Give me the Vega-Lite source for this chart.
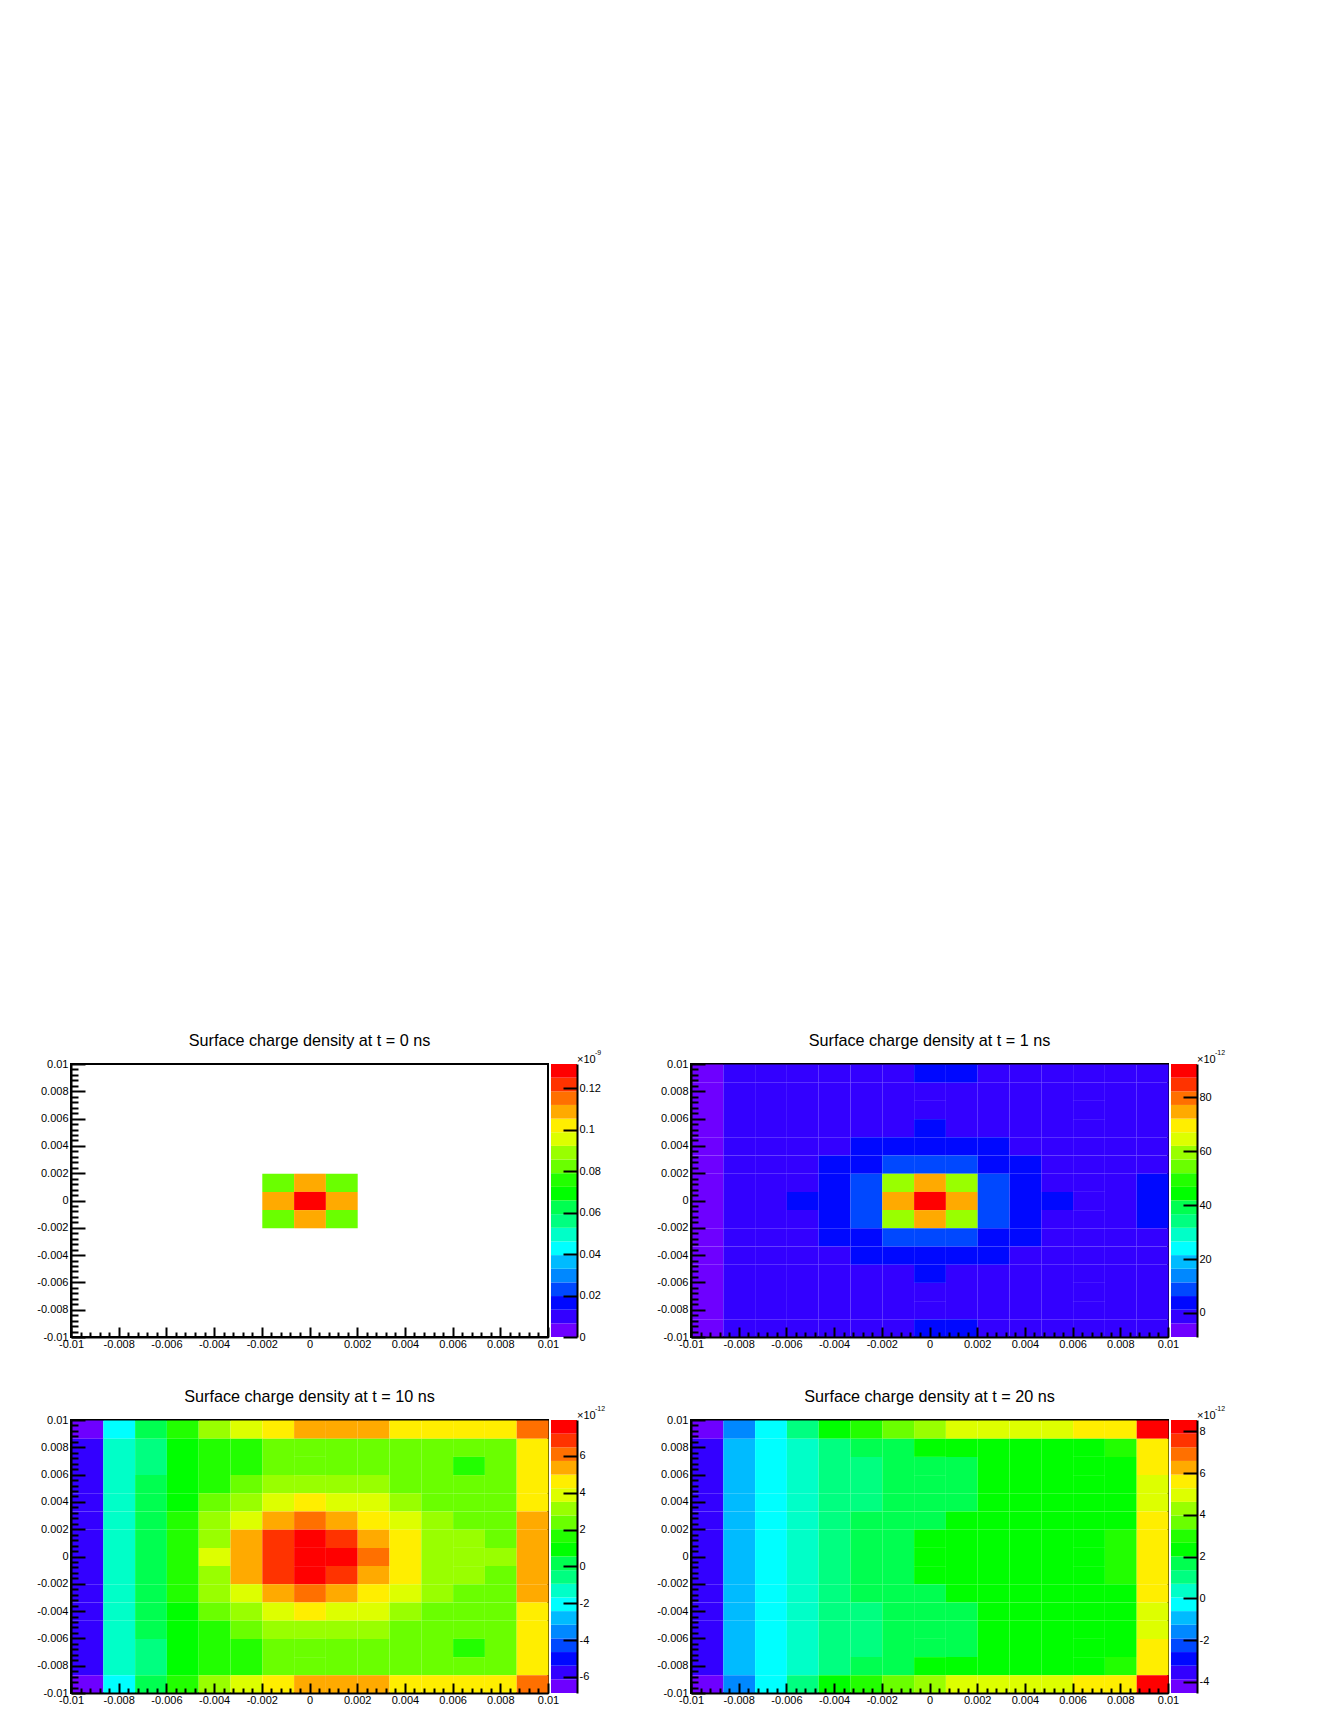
{"$schema":"https://vega.github.io/schema/vega-lite/v6.json","padding":{"left":35,"top":1031,"right":5,"bottom":5},"background":"white","bounds":"flush","spacing":{"row":83,"column":3},"columns":4,
"config":{"font":"Liberation Sans","axis":{"labelFont":"Liberation Sans","labelFontSize":11,"labelColor":"#000","tickColor":"#000","domainColor":"#000","domainWidth":2,"tickWidth":2,"grid":false,"title":null,"labelOverlap":false,"labelBound":false,"labelFlush":false},"title":{"font":"Liberation Sans","fontSize":16.2,"fontWeight":"normal","color":"#000","offset":9}},
"datasets":{
"t0":[{"x":-0.00133,"y":0.00133,"v":0.0823},{"x":0,"y":0.00133,"v":0.1087},{"x":0.00133,"y":0.00133,"v":0.0823},{"x":-0.00133,"y":0,"v":0.1087},{"x":0,"y":0,"v":0.1284},{"x":0.00133,"y":0,"v":0.1087},{"x":-0.00133,"y":-0.00133,"v":0.0823},{"x":0,"y":-0.00133,"v":0.1087},{"x":0.00133,"y":-0.00133,"v":0.0823}],
"t1":[
{"x":-0.00933,"y":0.00933,"v":-6.4},{"x":-0.008,"y":0.00933,"v":-1.3},{"x":-0.00667,"y":0.00933,"v":-1.3},{"x":-0.00533,"y":0.00933,"v":-1.3},{"x":-0.004,"y":0.00933,"v":-1.3},{"x":-0.00267,"y":0.00933,"v":-1.3},{"x":-0.00133,"y":0.00933,"v":-1.3},{"x":0,"y":0.00933,"v":3.8},{"x":0.00133,"y":0.00933,"v":3.8},{"x":0.00267,"y":0.00933,"v":-1.3},{"x":0.004,"y":0.00933,"v":-1.3},{"x":0.00533,"y":0.00933,"v":-1.3},{"x":0.00667,"y":0.00933,"v":-1.3},{"x":0.008,"y":0.00933,"v":-1.3},{"x":0.00933,"y":0.00933,"v":-1.3},
{"x":-0.00933,"y":0.008,"v":-6.4},{"x":-0.008,"y":0.008,"v":-1.3},{"x":-0.00667,"y":0.008,"v":-1.3},{"x":-0.00533,"y":0.008,"v":-1.3},{"x":-0.004,"y":0.008,"v":-1.3},{"x":-0.00267,"y":0.008,"v":-1.3},{"x":-0.00133,"y":0.008,"v":-1.3},{"x":0,"y":0.008,"v":-1.3},{"x":0.00133,"y":0.008,"v":-1.3},{"x":0.00267,"y":0.008,"v":-1.3},{"x":0.004,"y":0.008,"v":-1.3},{"x":0.00533,"y":0.008,"v":-1.3},{"x":0.00667,"y":0.008,"v":-1.3},{"x":0.008,"y":0.008,"v":-1.3},{"x":0.00933,"y":0.008,"v":-1.3},
{"x":-0.00933,"y":0.00667,"v":-6.4},{"x":-0.008,"y":0.00667,"v":-1.3},{"x":-0.00667,"y":0.00667,"v":-1.3},{"x":-0.00533,"y":0.00667,"v":-1.3},{"x":-0.004,"y":0.00667,"v":-1.3},{"x":-0.00267,"y":0.00667,"v":-1.3},{"x":-0.00133,"y":0.00667,"v":-1.3},{"x":0,"y":0.00667,"v":-1.3},{"x":0.00133,"y":0.00667,"v":-1.3},{"x":0.00267,"y":0.00667,"v":-1.3},{"x":0.004,"y":0.00667,"v":-1.3},{"x":0.00533,"y":0.00667,"v":-1.3},{"x":0.00667,"y":0.00667,"v":-1.3},{"x":0.008,"y":0.00667,"v":-1.3},{"x":0.00933,"y":0.00667,"v":-1.3},
{"x":-0.00933,"y":0.00533,"v":-6.4},{"x":-0.008,"y":0.00533,"v":-1.3},{"x":-0.00667,"y":0.00533,"v":-1.3},{"x":-0.00533,"y":0.00533,"v":-1.3},{"x":-0.004,"y":0.00533,"v":-1.3},{"x":-0.00267,"y":0.00533,"v":-1.3},{"x":-0.00133,"y":0.00533,"v":-1.3},{"x":0,"y":0.00533,"v":3.8},{"x":0.00133,"y":0.00533,"v":-1.3},{"x":0.00267,"y":0.00533,"v":-1.3},{"x":0.004,"y":0.00533,"v":-1.3},{"x":0.00533,"y":0.00533,"v":-1.3},{"x":0.00667,"y":0.00533,"v":-1.3},{"x":0.008,"y":0.00533,"v":-1.3},{"x":0.00933,"y":0.00533,"v":-1.3},
{"x":-0.00933,"y":0.004,"v":-6.4},{"x":-0.008,"y":0.004,"v":-1.3},{"x":-0.00667,"y":0.004,"v":-1.3},{"x":-0.00533,"y":0.004,"v":-1.3},{"x":-0.004,"y":0.004,"v":-1.3},{"x":-0.00267,"y":0.004,"v":3.8},{"x":-0.00133,"y":0.004,"v":3.8},{"x":0,"y":0.004,"v":3.8},{"x":0.00133,"y":0.004,"v":3.8},{"x":0.00267,"y":0.004,"v":3.8},{"x":0.004,"y":0.004,"v":-1.3},{"x":0.00533,"y":0.004,"v":-1.3},{"x":0.00667,"y":0.004,"v":-1.3},{"x":0.008,"y":0.004,"v":-1.3},{"x":0.00933,"y":0.004,"v":-1.3},
{"x":-0.00933,"y":0.00267,"v":-6.4},{"x":-0.008,"y":0.00267,"v":-1.3},{"x":-0.00667,"y":0.00267,"v":-1.3},{"x":-0.00533,"y":0.00267,"v":-1.3},{"x":-0.004,"y":0.00267,"v":3.8},{"x":-0.00267,"y":0.00267,"v":3.8},{"x":-0.00133,"y":0.00267,"v":8.8},{"x":0,"y":0.00267,"v":8.8},{"x":0.00133,"y":0.00267,"v":8.8},{"x":0.00267,"y":0.00267,"v":3.8},{"x":0.004,"y":0.00267,"v":3.8},{"x":0.00533,"y":0.00267,"v":-1.3},{"x":0.00667,"y":0.00267,"v":-1.3},{"x":0.008,"y":0.00267,"v":-1.3},{"x":0.00933,"y":0.00267,"v":-1.3},
{"x":-0.00933,"y":0.00133,"v":-6.4},{"x":-0.008,"y":0.00133,"v":-1.3},{"x":-0.00667,"y":0.00133,"v":-1.3},{"x":-0.00533,"y":0.00133,"v":-1.3},{"x":-0.004,"y":0.00133,"v":3.8},{"x":-0.00267,"y":0.00133,"v":8.8},{"x":-0.00133,"y":0.00133,"v":59.4},{"x":0,"y":0.00133,"v":74.6},{"x":0.00133,"y":0.00133,"v":59.4},{"x":0.00267,"y":0.00133,"v":8.8},{"x":0.004,"y":0.00133,"v":3.8},{"x":0.00533,"y":0.00133,"v":-1.3},{"x":0.00667,"y":0.00133,"v":-1.3},{"x":0.008,"y":0.00133,"v":-1.3},{"x":0.00933,"y":0.00133,"v":3.8},
{"x":-0.00933,"y":0,"v":-6.4},{"x":-0.008,"y":0,"v":-1.3},{"x":-0.00667,"y":0,"v":-1.3},{"x":-0.00533,"y":0,"v":3.8},{"x":-0.004,"y":0,"v":3.8},{"x":-0.00267,"y":0,"v":8.8},{"x":-0.00133,"y":0,"v":74.6},{"x":0,"y":0,"v":89.8},{"x":0.00133,"y":0,"v":74.6},{"x":0.00267,"y":0,"v":8.8},{"x":0.004,"y":0,"v":3.8},{"x":0.00533,"y":0,"v":3.8},{"x":0.00667,"y":0,"v":-1.3},{"x":0.008,"y":0,"v":-1.3},{"x":0.00933,"y":0,"v":3.8},
{"x":-0.00933,"y":-0.00133,"v":-6.4},{"x":-0.008,"y":-0.00133,"v":-1.3},{"x":-0.00667,"y":-0.00133,"v":-1.3},{"x":-0.00533,"y":-0.00133,"v":-1.3},{"x":-0.004,"y":-0.00133,"v":3.8},{"x":-0.00267,"y":-0.00133,"v":8.8},{"x":-0.00133,"y":-0.00133,"v":59.4},{"x":0,"y":-0.00133,"v":74.6},{"x":0.00133,"y":-0.00133,"v":59.4},{"x":0.00267,"y":-0.00133,"v":8.8},{"x":0.004,"y":-0.00133,"v":3.8},{"x":0.00533,"y":-0.00133,"v":-1.3},{"x":0.00667,"y":-0.00133,"v":-1.3},{"x":0.008,"y":-0.00133,"v":-1.3},{"x":0.00933,"y":-0.00133,"v":3.8},
{"x":-0.00933,"y":-0.00267,"v":-6.4},{"x":-0.008,"y":-0.00267,"v":-1.3},{"x":-0.00667,"y":-0.00267,"v":-1.3},{"x":-0.00533,"y":-0.00267,"v":-1.3},{"x":-0.004,"y":-0.00267,"v":3.8},{"x":-0.00267,"y":-0.00267,"v":3.8},{"x":-0.00133,"y":-0.00267,"v":8.8},{"x":0,"y":-0.00267,"v":8.8},{"x":0.00133,"y":-0.00267,"v":8.8},{"x":0.00267,"y":-0.00267,"v":3.8},{"x":0.004,"y":-0.00267,"v":3.8},{"x":0.00533,"y":-0.00267,"v":-1.3},{"x":0.00667,"y":-0.00267,"v":-1.3},{"x":0.008,"y":-0.00267,"v":-1.3},{"x":0.00933,"y":-0.00267,"v":-1.3},
{"x":-0.00933,"y":-0.004,"v":-6.4},{"x":-0.008,"y":-0.004,"v":-1.3},{"x":-0.00667,"y":-0.004,"v":-1.3},{"x":-0.00533,"y":-0.004,"v":-1.3},{"x":-0.004,"y":-0.004,"v":-1.3},{"x":-0.00267,"y":-0.004,"v":3.8},{"x":-0.00133,"y":-0.004,"v":3.8},{"x":0,"y":-0.004,"v":3.8},{"x":0.00133,"y":-0.004,"v":3.8},{"x":0.00267,"y":-0.004,"v":3.8},{"x":0.004,"y":-0.004,"v":-1.3},{"x":0.00533,"y":-0.004,"v":-1.3},{"x":0.00667,"y":-0.004,"v":-1.3},{"x":0.008,"y":-0.004,"v":-1.3},{"x":0.00933,"y":-0.004,"v":-1.3},
{"x":-0.00933,"y":-0.00533,"v":-6.4},{"x":-0.008,"y":-0.00533,"v":-1.3},{"x":-0.00667,"y":-0.00533,"v":-1.3},{"x":-0.00533,"y":-0.00533,"v":-1.3},{"x":-0.004,"y":-0.00533,"v":-1.3},{"x":-0.00267,"y":-0.00533,"v":-1.3},{"x":-0.00133,"y":-0.00533,"v":-1.3},{"x":0,"y":-0.00533,"v":3.8},{"x":0.00133,"y":-0.00533,"v":-1.3},{"x":0.00267,"y":-0.00533,"v":-1.3},{"x":0.004,"y":-0.00533,"v":-1.3},{"x":0.00533,"y":-0.00533,"v":-1.3},{"x":0.00667,"y":-0.00533,"v":-1.3},{"x":0.008,"y":-0.00533,"v":-1.3},{"x":0.00933,"y":-0.00533,"v":-1.3},
{"x":-0.00933,"y":-0.00667,"v":-6.4},{"x":-0.008,"y":-0.00667,"v":-1.3},{"x":-0.00667,"y":-0.00667,"v":-1.3},{"x":-0.00533,"y":-0.00667,"v":-1.3},{"x":-0.004,"y":-0.00667,"v":-1.3},{"x":-0.00267,"y":-0.00667,"v":-1.3},{"x":-0.00133,"y":-0.00667,"v":-1.3},{"x":0,"y":-0.00667,"v":-1.3},{"x":0.00133,"y":-0.00667,"v":-1.3},{"x":0.00267,"y":-0.00667,"v":-1.3},{"x":0.004,"y":-0.00667,"v":-1.3},{"x":0.00533,"y":-0.00667,"v":-1.3},{"x":0.00667,"y":-0.00667,"v":-1.3},{"x":0.008,"y":-0.00667,"v":-1.3},{"x":0.00933,"y":-0.00667,"v":-1.3},
{"x":-0.00933,"y":-0.008,"v":-6.4},{"x":-0.008,"y":-0.008,"v":-1.3},{"x":-0.00667,"y":-0.008,"v":-1.3},{"x":-0.00533,"y":-0.008,"v":-1.3},{"x":-0.004,"y":-0.008,"v":-1.3},{"x":-0.00267,"y":-0.008,"v":-1.3},{"x":-0.00133,"y":-0.008,"v":-1.3},{"x":0,"y":-0.008,"v":-1.3},{"x":0.00133,"y":-0.008,"v":-1.3},{"x":0.00267,"y":-0.008,"v":-1.3},{"x":0.004,"y":-0.008,"v":-1.3},{"x":0.00533,"y":-0.008,"v":-1.3},{"x":0.00667,"y":-0.008,"v":-1.3},{"x":0.008,"y":-0.008,"v":-1.3},{"x":0.00933,"y":-0.008,"v":-1.3},
{"x":-0.00933,"y":-0.00933,"v":-6.4},{"x":-0.008,"y":-0.00933,"v":-1.3},{"x":-0.00667,"y":-0.00933,"v":-1.3},{"x":-0.00533,"y":-0.00933,"v":-1.3},{"x":-0.004,"y":-0.00933,"v":-1.3},{"x":-0.00267,"y":-0.00933,"v":-1.3},{"x":-0.00133,"y":-0.00933,"v":-1.3},{"x":0,"y":-0.00933,"v":3.8},{"x":0.00133,"y":-0.00933,"v":3.8},{"x":0.00267,"y":-0.00933,"v":-1.3},{"x":0.004,"y":-0.00933,"v":-1.3},{"x":0.00533,"y":-0.00933,"v":-1.3},{"x":0.00667,"y":-0.00933,"v":-1.3},{"x":0.008,"y":-0.00933,"v":-1.3},{"x":0.00933,"y":-0.00933,"v":-1.3}
],
"t10":[
{"x":-0.00933,"y":0.00933,"v":-6.5},{"x":-0.008,"y":0.00933,"v":-2.05},{"x":-0.00667,"y":0.00933,"v":0.17},{"x":-0.00533,"y":0.00933,"v":1.65},{"x":-0.004,"y":0.00933,"v":3.13},{"x":-0.00267,"y":0.00933,"v":3.87},{"x":-0.00133,"y":0.00933,"v":4.61},{"x":0,"y":0.00933,"v":5.35},{"x":0.00133,"y":0.00933,"v":5.35},{"x":0.00267,"y":0.00933,"v":5.35},{"x":0.004,"y":0.00933,"v":4.61},{"x":0.00533,"y":0.00933,"v":4.61},{"x":0.00667,"y":0.00933,"v":4.61},{"x":0.008,"y":0.00933,"v":4.61},{"x":0.00933,"y":0.00933,"v":6.09},
{"x":-0.00933,"y":0.008,"v":-5.76},{"x":-0.008,"y":0.008,"v":-1.31},{"x":-0.00667,"y":0.008,"v":-0.57},{"x":-0.00533,"y":0.008,"v":0.91},{"x":-0.004,"y":0.008,"v":1.65},{"x":-0.00267,"y":0.008,"v":1.65},{"x":-0.00133,"y":0.008,"v":2.39},{"x":0,"y":0.008,"v":2.39},{"x":0.00133,"y":0.008,"v":2.39},{"x":0.00267,"y":0.008,"v":2.39},{"x":0.004,"y":0.008,"v":2.39},{"x":0.00533,"y":0.008,"v":2.39},{"x":0.00667,"y":0.008,"v":2.39},{"x":0.008,"y":0.008,"v":2.39},{"x":0.00933,"y":0.008,"v":4.61},
{"x":-0.00933,"y":0.00667,"v":-5.76},{"x":-0.008,"y":0.00667,"v":-1.31},{"x":-0.00667,"y":0.00667,"v":-0.57},{"x":-0.00533,"y":0.00667,"v":0.91},{"x":-0.004,"y":0.00667,"v":1.65},{"x":-0.00267,"y":0.00667,"v":1.65},{"x":-0.00133,"y":0.00667,"v":2.39},{"x":0,"y":0.00667,"v":2.39},{"x":0.00133,"y":0.00667,"v":2.39},{"x":0.00267,"y":0.00667,"v":2.39},{"x":0.004,"y":0.00667,"v":2.39},{"x":0.00533,"y":0.00667,"v":2.39},{"x":0.00667,"y":0.00667,"v":1.65},{"x":0.008,"y":0.00667,"v":2.39},{"x":0.00933,"y":0.00667,"v":4.61},
{"x":-0.00933,"y":0.00533,"v":-5.76},{"x":-0.008,"y":0.00533,"v":-1.31},{"x":-0.00667,"y":0.00533,"v":0.17},{"x":-0.00533,"y":0.00533,"v":0.91},{"x":-0.004,"y":0.00533,"v":1.65},{"x":-0.00267,"y":0.00533,"v":2.39},{"x":-0.00133,"y":0.00533,"v":3.13},{"x":0,"y":0.00533,"v":3.13},{"x":0.00133,"y":0.00533,"v":3.13},{"x":0.00267,"y":0.00533,"v":3.13},{"x":0.004,"y":0.00533,"v":2.39},{"x":0.00533,"y":0.00533,"v":2.39},{"x":0.00667,"y":0.00533,"v":2.39},{"x":0.008,"y":0.00533,"v":2.39},{"x":0.00933,"y":0.00533,"v":4.61},
{"x":-0.00933,"y":0.004,"v":-5.76},{"x":-0.008,"y":0.004,"v":-1.31},{"x":-0.00667,"y":0.004,"v":0.17},{"x":-0.00533,"y":0.004,"v":0.91},{"x":-0.004,"y":0.004,"v":2.39},{"x":-0.00267,"y":0.004,"v":3.13},{"x":-0.00133,"y":0.004,"v":3.87},{"x":0,"y":0.004,"v":4.61},{"x":0.00133,"y":0.004,"v":3.87},{"x":0.00267,"y":0.004,"v":3.87},{"x":0.004,"y":0.004,"v":3.13},{"x":0.00533,"y":0.004,"v":2.39},{"x":0.00667,"y":0.004,"v":2.39},{"x":0.008,"y":0.004,"v":2.39},{"x":0.00933,"y":0.004,"v":4.61},
{"x":-0.00933,"y":0.00267,"v":-5.76},{"x":-0.008,"y":0.00267,"v":-1.31},{"x":-0.00667,"y":0.00267,"v":0.17},{"x":-0.00533,"y":0.00267,"v":1.65},{"x":-0.004,"y":0.00267,"v":3.13},{"x":-0.00267,"y":0.00267,"v":3.87},{"x":-0.00133,"y":0.00267,"v":5.35},{"x":0,"y":0.00267,"v":6.09},{"x":0.00133,"y":0.00267,"v":5.35},{"x":0.00267,"y":0.00267,"v":4.61},{"x":0.004,"y":0.00267,"v":3.87},{"x":0.00533,"y":0.00267,"v":3.13},{"x":0.00667,"y":0.00267,"v":2.39},{"x":0.008,"y":0.00267,"v":2.39},{"x":0.00933,"y":0.00267,"v":5.35},
{"x":-0.00933,"y":0.00133,"v":-5.76},{"x":-0.008,"y":0.00133,"v":-1.31},{"x":-0.00667,"y":0.00133,"v":0.17},{"x":-0.00533,"y":0.00133,"v":1.65},{"x":-0.004,"y":0.00133,"v":3.13},{"x":-0.00267,"y":0.00133,"v":5.35},{"x":-0.00133,"y":0.00133,"v":6.84},{"x":0,"y":0.00133,"v":7.58},{"x":0.00133,"y":0.00133,"v":6.84},{"x":0.00267,"y":0.00133,"v":5.35},{"x":0.004,"y":0.00133,"v":4.61},{"x":0.00533,"y":0.00133,"v":3.13},{"x":0.00667,"y":0.00133,"v":3.13},{"x":0.008,"y":0.00133,"v":2.39},{"x":0.00933,"y":0.00133,"v":5.35},
{"x":-0.00933,"y":0,"v":-5.76},{"x":-0.008,"y":0,"v":-1.31},{"x":-0.00667,"y":0,"v":0.17},{"x":-0.00533,"y":0,"v":1.65},{"x":-0.004,"y":0,"v":3.87},{"x":-0.00267,"y":0,"v":5.35},{"x":-0.00133,"y":0,"v":6.84},{"x":0,"y":0,"v":7.58},{"x":0.00133,"y":0,"v":7.58},{"x":0.00267,"y":0,"v":6.09},{"x":0.004,"y":0,"v":4.61},{"x":0.00533,"y":0,"v":3.13},{"x":0.00667,"y":0,"v":3.13},{"x":0.008,"y":0,"v":3.13},{"x":0.00933,"y":0,"v":5.35},
{"x":-0.00933,"y":-0.00133,"v":-5.76},{"x":-0.008,"y":-0.00133,"v":-1.31},{"x":-0.00667,"y":-0.00133,"v":0.17},{"x":-0.00533,"y":-0.00133,"v":1.65},{"x":-0.004,"y":-0.00133,"v":3.13},{"x":-0.00267,"y":-0.00133,"v":5.35},{"x":-0.00133,"y":-0.00133,"v":6.84},{"x":0,"y":-0.00133,"v":7.58},{"x":0.00133,"y":-0.00133,"v":6.84},{"x":0.00267,"y":-0.00133,"v":5.35},{"x":0.004,"y":-0.00133,"v":4.61},{"x":0.00533,"y":-0.00133,"v":3.13},{"x":0.00667,"y":-0.00133,"v":3.13},{"x":0.008,"y":-0.00133,"v":2.39},{"x":0.00933,"y":-0.00133,"v":5.35},
{"x":-0.00933,"y":-0.00267,"v":-5.76},{"x":-0.008,"y":-0.00267,"v":-1.31},{"x":-0.00667,"y":-0.00267,"v":0.17},{"x":-0.00533,"y":-0.00267,"v":1.65},{"x":-0.004,"y":-0.00267,"v":3.13},{"x":-0.00267,"y":-0.00267,"v":3.87},{"x":-0.00133,"y":-0.00267,"v":5.35},{"x":0,"y":-0.00267,"v":6.09},{"x":0.00133,"y":-0.00267,"v":5.35},{"x":0.00267,"y":-0.00267,"v":4.61},{"x":0.004,"y":-0.00267,"v":3.87},{"x":0.00533,"y":-0.00267,"v":3.13},{"x":0.00667,"y":-0.00267,"v":2.39},{"x":0.008,"y":-0.00267,"v":2.39},{"x":0.00933,"y":-0.00267,"v":5.35},
{"x":-0.00933,"y":-0.004,"v":-5.76},{"x":-0.008,"y":-0.004,"v":-1.31},{"x":-0.00667,"y":-0.004,"v":0.17},{"x":-0.00533,"y":-0.004,"v":0.91},{"x":-0.004,"y":-0.004,"v":2.39},{"x":-0.00267,"y":-0.004,"v":3.13},{"x":-0.00133,"y":-0.004,"v":3.87},{"x":0,"y":-0.004,"v":4.61},{"x":0.00133,"y":-0.004,"v":3.87},{"x":0.00267,"y":-0.004,"v":3.87},{"x":0.004,"y":-0.004,"v":3.13},{"x":0.00533,"y":-0.004,"v":2.39},{"x":0.00667,"y":-0.004,"v":2.39},{"x":0.008,"y":-0.004,"v":2.39},{"x":0.00933,"y":-0.004,"v":4.61},
{"x":-0.00933,"y":-0.00533,"v":-5.76},{"x":-0.008,"y":-0.00533,"v":-1.31},{"x":-0.00667,"y":-0.00533,"v":0.17},{"x":-0.00533,"y":-0.00533,"v":0.91},{"x":-0.004,"y":-0.00533,"v":1.65},{"x":-0.00267,"y":-0.00533,"v":2.39},{"x":-0.00133,"y":-0.00533,"v":3.13},{"x":0,"y":-0.00533,"v":3.13},{"x":0.00133,"y":-0.00533,"v":3.13},{"x":0.00267,"y":-0.00533,"v":3.13},{"x":0.004,"y":-0.00533,"v":2.39},{"x":0.00533,"y":-0.00533,"v":2.39},{"x":0.00667,"y":-0.00533,"v":2.39},{"x":0.008,"y":-0.00533,"v":2.39},{"x":0.00933,"y":-0.00533,"v":4.61},
{"x":-0.00933,"y":-0.00667,"v":-5.76},{"x":-0.008,"y":-0.00667,"v":-1.31},{"x":-0.00667,"y":-0.00667,"v":-0.57},{"x":-0.00533,"y":-0.00667,"v":0.91},{"x":-0.004,"y":-0.00667,"v":1.65},{"x":-0.00267,"y":-0.00667,"v":1.65},{"x":-0.00133,"y":-0.00667,"v":2.39},{"x":0,"y":-0.00667,"v":2.39},{"x":0.00133,"y":-0.00667,"v":2.39},{"x":0.00267,"y":-0.00667,"v":2.39},{"x":0.004,"y":-0.00667,"v":2.39},{"x":0.00533,"y":-0.00667,"v":2.39},{"x":0.00667,"y":-0.00667,"v":1.65},{"x":0.008,"y":-0.00667,"v":2.39},{"x":0.00933,"y":-0.00667,"v":4.61},
{"x":-0.00933,"y":-0.008,"v":-5.76},{"x":-0.008,"y":-0.008,"v":-1.31},{"x":-0.00667,"y":-0.008,"v":-0.57},{"x":-0.00533,"y":-0.008,"v":0.91},{"x":-0.004,"y":-0.008,"v":1.65},{"x":-0.00267,"y":-0.008,"v":1.65},{"x":-0.00133,"y":-0.008,"v":2.39},{"x":0,"y":-0.008,"v":2.39},{"x":0.00133,"y":-0.008,"v":2.39},{"x":0.00267,"y":-0.008,"v":2.39},{"x":0.004,"y":-0.008,"v":2.39},{"x":0.00533,"y":-0.008,"v":2.39},{"x":0.00667,"y":-0.008,"v":2.39},{"x":0.008,"y":-0.008,"v":2.39},{"x":0.00933,"y":-0.008,"v":4.61},
{"x":-0.00933,"y":-0.00933,"v":-6.5},{"x":-0.008,"y":-0.00933,"v":-2.05},{"x":-0.00667,"y":-0.00933,"v":0.17},{"x":-0.00533,"y":-0.00933,"v":1.65},{"x":-0.004,"y":-0.00933,"v":3.13},{"x":-0.00267,"y":-0.00933,"v":3.87},{"x":-0.00133,"y":-0.00933,"v":4.61},{"x":0,"y":-0.00933,"v":5.35},{"x":0.00133,"y":-0.00933,"v":5.35},{"x":0.00267,"y":-0.00933,"v":5.35},{"x":0.004,"y":-0.00933,"v":4.61},{"x":0.00533,"y":-0.00933,"v":4.61},{"x":0.00667,"y":-0.00933,"v":4.61},{"x":0.008,"y":-0.00933,"v":4.61},{"x":0.00933,"y":-0.00933,"v":6.09}
],
"t20":[
{"x":-0.00933,"y":0.00933,"v":-4.2},{"x":-0.008,"y":0.00933,"v":-1.59},{"x":-0.00667,"y":0.00933,"v":-0.28},{"x":-0.00533,"y":0.00933,"v":1.02},{"x":-0.004,"y":0.00933,"v":2.33},{"x":-0.00267,"y":0.00933,"v":2.98},{"x":-0.00133,"y":0.00933,"v":3.64},{"x":0,"y":0.00933,"v":4.29},{"x":0.00133,"y":0.00933,"v":4.94},{"x":0.00267,"y":0.00933,"v":4.94},{"x":0.004,"y":0.00933,"v":4.94},{"x":0.00533,"y":0.00933,"v":4.94},{"x":0.00667,"y":0.00933,"v":5.6},{"x":0.008,"y":0.00933,"v":5.6},{"x":0.00933,"y":0.00933,"v":8.21},
{"x":-0.00933,"y":0.008,"v":-3.55},{"x":-0.008,"y":0.008,"v":-0.94},{"x":-0.00667,"y":0.008,"v":-0.28},{"x":-0.00533,"y":0.008,"v":0.37},{"x":-0.004,"y":0.008,"v":1.02},{"x":-0.00267,"y":0.008,"v":1.68},{"x":-0.00133,"y":0.008,"v":1.68},{"x":0,"y":0.008,"v":2.33},{"x":0.00133,"y":0.008,"v":2.33},{"x":0.00267,"y":0.008,"v":2.33},{"x":0.004,"y":0.008,"v":2.33},{"x":0.00533,"y":0.008,"v":2.33},{"x":0.00667,"y":0.008,"v":2.33},{"x":0.008,"y":0.008,"v":2.98},{"x":0.00933,"y":0.008,"v":5.6},
{"x":-0.00933,"y":0.00667,"v":-3.55},{"x":-0.008,"y":0.00667,"v":-0.94},{"x":-0.00667,"y":0.00667,"v":-0.28},{"x":-0.00533,"y":0.00667,"v":0.37},{"x":-0.004,"y":0.00667,"v":1.02},{"x":-0.00267,"y":0.00667,"v":1.02},{"x":-0.00133,"y":0.00667,"v":1.68},{"x":0,"y":0.00667,"v":1.68},{"x":0.00133,"y":0.00667,"v":1.68},{"x":0.00267,"y":0.00667,"v":2.33},{"x":0.004,"y":0.00667,"v":2.33},{"x":0.00533,"y":0.00667,"v":2.33},{"x":0.00667,"y":0.00667,"v":2.33},{"x":0.008,"y":0.00667,"v":2.33},{"x":0.00933,"y":0.00667,"v":5.6},
{"x":-0.00933,"y":0.00533,"v":-3.55},{"x":-0.008,"y":0.00533,"v":-0.94},{"x":-0.00667,"y":0.00533,"v":-0.28},{"x":-0.00533,"y":0.00533,"v":0.37},{"x":-0.004,"y":0.00533,"v":1.02},{"x":-0.00267,"y":0.00533,"v":1.02},{"x":-0.00133,"y":0.00533,"v":1.68},{"x":0,"y":0.00533,"v":1.68},{"x":0.00133,"y":0.00533,"v":1.68},{"x":0.00267,"y":0.00533,"v":2.33},{"x":0.004,"y":0.00533,"v":2.33},{"x":0.00533,"y":0.00533,"v":2.33},{"x":0.00667,"y":0.00533,"v":2.33},{"x":0.008,"y":0.00533,"v":2.33},{"x":0.00933,"y":0.00533,"v":4.94},
{"x":-0.00933,"y":0.004,"v":-3.55},{"x":-0.008,"y":0.004,"v":-0.94},{"x":-0.00667,"y":0.004,"v":-0.28},{"x":-0.00533,"y":0.004,"v":0.37},{"x":-0.004,"y":0.004,"v":1.02},{"x":-0.00267,"y":0.004,"v":1.02},{"x":-0.00133,"y":0.004,"v":1.68},{"x":0,"y":0.004,"v":1.68},{"x":0.00133,"y":0.004,"v":1.68},{"x":0.00267,"y":0.004,"v":2.33},{"x":0.004,"y":0.004,"v":2.33},{"x":0.00533,"y":0.004,"v":2.33},{"x":0.00667,"y":0.004,"v":2.33},{"x":0.008,"y":0.004,"v":2.33},{"x":0.00933,"y":0.004,"v":4.94},
{"x":-0.00933,"y":0.00267,"v":-3.55},{"x":-0.008,"y":0.00267,"v":-0.94},{"x":-0.00667,"y":0.00267,"v":-0.28},{"x":-0.00533,"y":0.00267,"v":0.37},{"x":-0.004,"y":0.00267,"v":1.02},{"x":-0.00267,"y":0.00267,"v":1.68},{"x":-0.00133,"y":0.00267,"v":1.68},{"x":0,"y":0.00267,"v":1.68},{"x":0.00133,"y":0.00267,"v":2.33},{"x":0.00267,"y":0.00267,"v":2.33},{"x":0.004,"y":0.00267,"v":2.33},{"x":0.00533,"y":0.00267,"v":2.33},{"x":0.00667,"y":0.00267,"v":2.33},{"x":0.008,"y":0.00267,"v":2.33},{"x":0.00933,"y":0.00267,"v":5.6},
{"x":-0.00933,"y":0.00133,"v":-3.55},{"x":-0.008,"y":0.00133,"v":-0.94},{"x":-0.00667,"y":0.00133,"v":-0.28},{"x":-0.00533,"y":0.00133,"v":0.37},{"x":-0.004,"y":0.00133,"v":1.02},{"x":-0.00267,"y":0.00133,"v":1.68},{"x":-0.00133,"y":0.00133,"v":1.68},{"x":0,"y":0.00133,"v":2.33},{"x":0.00133,"y":0.00133,"v":2.33},{"x":0.00267,"y":0.00133,"v":2.33},{"x":0.004,"y":0.00133,"v":2.33},{"x":0.00533,"y":0.00133,"v":2.33},{"x":0.00667,"y":0.00133,"v":2.33},{"x":0.008,"y":0.00133,"v":2.98},{"x":0.00933,"y":0.00133,"v":5.6},
{"x":-0.00933,"y":0,"v":-3.55},{"x":-0.008,"y":0,"v":-0.94},{"x":-0.00667,"y":0,"v":-0.28},{"x":-0.00533,"y":0,"v":0.37},{"x":-0.004,"y":0,"v":1.02},{"x":-0.00267,"y":0,"v":1.68},{"x":-0.00133,"y":0,"v":1.68},{"x":0,"y":0,"v":2.33},{"x":0.00133,"y":0,"v":2.33},{"x":0.00267,"y":0,"v":2.33},{"x":0.004,"y":0,"v":2.33},{"x":0.00533,"y":0,"v":2.33},{"x":0.00667,"y":0,"v":2.33},{"x":0.008,"y":0,"v":2.98},{"x":0.00933,"y":0,"v":5.6},
{"x":-0.00933,"y":-0.00133,"v":-3.55},{"x":-0.008,"y":-0.00133,"v":-0.94},{"x":-0.00667,"y":-0.00133,"v":-0.28},{"x":-0.00533,"y":-0.00133,"v":0.37},{"x":-0.004,"y":-0.00133,"v":1.02},{"x":-0.00267,"y":-0.00133,"v":1.68},{"x":-0.00133,"y":-0.00133,"v":1.68},{"x":0,"y":-0.00133,"v":2.33},{"x":0.00133,"y":-0.00133,"v":2.33},{"x":0.00267,"y":-0.00133,"v":2.33},{"x":0.004,"y":-0.00133,"v":2.33},{"x":0.00533,"y":-0.00133,"v":2.33},{"x":0.00667,"y":-0.00133,"v":2.33},{"x":0.008,"y":-0.00133,"v":2.98},{"x":0.00933,"y":-0.00133,"v":5.6},
{"x":-0.00933,"y":-0.00267,"v":-3.55},{"x":-0.008,"y":-0.00267,"v":-0.94},{"x":-0.00667,"y":-0.00267,"v":-0.28},{"x":-0.00533,"y":-0.00267,"v":0.37},{"x":-0.004,"y":-0.00267,"v":1.02},{"x":-0.00267,"y":-0.00267,"v":1.68},{"x":-0.00133,"y":-0.00267,"v":1.68},{"x":0,"y":-0.00267,"v":1.68},{"x":0.00133,"y":-0.00267,"v":2.33},{"x":0.00267,"y":-0.00267,"v":2.33},{"x":0.004,"y":-0.00267,"v":2.33},{"x":0.00533,"y":-0.00267,"v":2.33},{"x":0.00667,"y":-0.00267,"v":2.33},{"x":0.008,"y":-0.00267,"v":2.33},{"x":0.00933,"y":-0.00267,"v":5.6},
{"x":-0.00933,"y":-0.004,"v":-3.55},{"x":-0.008,"y":-0.004,"v":-0.94},{"x":-0.00667,"y":-0.004,"v":-0.28},{"x":-0.00533,"y":-0.004,"v":0.37},{"x":-0.004,"y":-0.004,"v":1.02},{"x":-0.00267,"y":-0.004,"v":1.02},{"x":-0.00133,"y":-0.004,"v":1.68},{"x":0,"y":-0.004,"v":1.68},{"x":0.00133,"y":-0.004,"v":1.68},{"x":0.00267,"y":-0.004,"v":2.33},{"x":0.004,"y":-0.004,"v":2.33},{"x":0.00533,"y":-0.004,"v":2.33},{"x":0.00667,"y":-0.004,"v":2.33},{"x":0.008,"y":-0.004,"v":2.33},{"x":0.00933,"y":-0.004,"v":4.94},
{"x":-0.00933,"y":-0.00533,"v":-3.55},{"x":-0.008,"y":-0.00533,"v":-0.94},{"x":-0.00667,"y":-0.00533,"v":-0.28},{"x":-0.00533,"y":-0.00533,"v":0.37},{"x":-0.004,"y":-0.00533,"v":1.02},{"x":-0.00267,"y":-0.00533,"v":1.02},{"x":-0.00133,"y":-0.00533,"v":1.68},{"x":0,"y":-0.00533,"v":1.68},{"x":0.00133,"y":-0.00533,"v":1.68},{"x":0.00267,"y":-0.00533,"v":2.33},{"x":0.004,"y":-0.00533,"v":2.33},{"x":0.00533,"y":-0.00533,"v":2.33},{"x":0.00667,"y":-0.00533,"v":2.33},{"x":0.008,"y":-0.00533,"v":2.33},{"x":0.00933,"y":-0.00533,"v":4.94},
{"x":-0.00933,"y":-0.00667,"v":-3.55},{"x":-0.008,"y":-0.00667,"v":-0.94},{"x":-0.00667,"y":-0.00667,"v":-0.28},{"x":-0.00533,"y":-0.00667,"v":0.37},{"x":-0.004,"y":-0.00667,"v":1.02},{"x":-0.00267,"y":-0.00667,"v":1.02},{"x":-0.00133,"y":-0.00667,"v":1.68},{"x":0,"y":-0.00667,"v":1.68},{"x":0.00133,"y":-0.00667,"v":1.68},{"x":0.00267,"y":-0.00667,"v":2.33},{"x":0.004,"y":-0.00667,"v":2.33},{"x":0.00533,"y":-0.00667,"v":2.33},{"x":0.00667,"y":-0.00667,"v":2.33},{"x":0.008,"y":-0.00667,"v":2.33},{"x":0.00933,"y":-0.00667,"v":5.6},
{"x":-0.00933,"y":-0.008,"v":-3.55},{"x":-0.008,"y":-0.008,"v":-0.94},{"x":-0.00667,"y":-0.008,"v":-0.28},{"x":-0.00533,"y":-0.008,"v":0.37},{"x":-0.004,"y":-0.008,"v":1.02},{"x":-0.00267,"y":-0.008,"v":1.68},{"x":-0.00133,"y":-0.008,"v":1.68},{"x":0,"y":-0.008,"v":2.33},{"x":0.00133,"y":-0.008,"v":2.33},{"x":0.00267,"y":-0.008,"v":2.33},{"x":0.004,"y":-0.008,"v":2.33},{"x":0.00533,"y":-0.008,"v":2.33},{"x":0.00667,"y":-0.008,"v":2.33},{"x":0.008,"y":-0.008,"v":2.98},{"x":0.00933,"y":-0.008,"v":5.6},
{"x":-0.00933,"y":-0.00933,"v":-4.2},{"x":-0.008,"y":-0.00933,"v":-1.59},{"x":-0.00667,"y":-0.00933,"v":-0.28},{"x":-0.00533,"y":-0.00933,"v":1.02},{"x":-0.004,"y":-0.00933,"v":2.33},{"x":-0.00267,"y":-0.00933,"v":2.98},{"x":-0.00133,"y":-0.00933,"v":3.64},{"x":0,"y":-0.00933,"v":4.29},{"x":0.00133,"y":-0.00933,"v":4.94},{"x":0.00267,"y":-0.00933,"v":4.94},{"x":0.004,"y":-0.00933,"v":4.94},{"x":0.00533,"y":-0.00933,"v":4.94},{"x":0.00667,"y":-0.00933,"v":5.6},{"x":0.008,"y":-0.00933,"v":5.6},{"x":0.00933,"y":-0.00933,"v":8.21}
],
"b0":[{"l":1,"lo":0,"hi":0.006585},{"l":2,"lo":0.006585,"hi":0.01317},{"l":3,"lo":0.01317,"hi":0.019755},{"l":4,"lo":0.019755,"hi":0.02634},{"l":5,"lo":0.02634,"hi":0.032925},{"l":6,"lo":0.032925,"hi":0.03951},{"l":7,"lo":0.03951,"hi":0.046095},{"l":8,"lo":0.046095,"hi":0.05268},{"l":9,"lo":0.05268,"hi":0.059265},{"l":10,"lo":0.059265,"hi":0.06585},{"l":11,"lo":0.06585,"hi":0.072435},{"l":12,"lo":0.072435,"hi":0.07902},{"l":13,"lo":0.07902,"hi":0.085605},{"l":14,"lo":0.085605,"hi":0.09219},{"l":15,"lo":0.09219,"hi":0.098775},{"l":16,"lo":0.098775,"hi":0.10536},{"l":17,"lo":0.10536,"hi":0.111945},{"l":18,"lo":0.111945,"hi":0.11853},{"l":19,"lo":0.11853,"hi":0.125115},{"l":20,"lo":0.125115,"hi":0.1317}],
"b1":[{"l":1,"lo":-8.9,"hi":-3.84},{"l":2,"lo":-3.84,"hi":1.22},{"l":3,"lo":1.22,"hi":6.28},{"l":4,"lo":6.28,"hi":11.34},{"l":5,"lo":11.34,"hi":16.4},{"l":6,"lo":16.4,"hi":21.46},{"l":7,"lo":21.46,"hi":26.52},{"l":8,"lo":26.52,"hi":31.58},{"l":9,"lo":31.58,"hi":36.64},{"l":10,"lo":36.64,"hi":41.7},{"l":11,"lo":41.7,"hi":46.76},{"l":12,"lo":46.76,"hi":51.82},{"l":13,"lo":51.82,"hi":56.88},{"l":14,"lo":56.88,"hi":61.94},{"l":15,"lo":61.94,"hi":67},{"l":16,"lo":67,"hi":72.06},{"l":17,"lo":72.06,"hi":77.12},{"l":18,"lo":77.12,"hi":82.18},{"l":19,"lo":82.18,"hi":87.24},{"l":20,"lo":87.24,"hi":92.3}],
"b10":[{"l":1,"lo":-6.87,"hi":-6.129},{"l":2,"lo":-6.129,"hi":-5.388},{"l":3,"lo":-5.388,"hi":-4.647},{"l":4,"lo":-4.647,"hi":-3.906},{"l":5,"lo":-3.906,"hi":-3.165},{"l":6,"lo":-3.165,"hi":-2.424},{"l":7,"lo":-2.424,"hi":-1.683},{"l":8,"lo":-1.683,"hi":-0.942},{"l":9,"lo":-0.942,"hi":-0.201},{"l":10,"lo":-0.201,"hi":0.54},{"l":11,"lo":0.54,"hi":1.281},{"l":12,"lo":1.281,"hi":2.022},{"l":13,"lo":2.022,"hi":2.763},{"l":14,"lo":2.763,"hi":3.504},{"l":15,"lo":3.504,"hi":4.245},{"l":16,"lo":4.245,"hi":4.986},{"l":17,"lo":4.986,"hi":5.727},{"l":18,"lo":5.727,"hi":6.468},{"l":19,"lo":6.468,"hi":7.209},{"l":20,"lo":7.209,"hi":7.95}],
"b20":[{"l":1,"lo":-4.53,"hi":-3.877},{"l":2,"lo":-3.877,"hi":-3.223},{"l":3,"lo":-3.223,"hi":-2.57},{"l":4,"lo":-2.57,"hi":-1.916},{"l":5,"lo":-1.916,"hi":-1.263},{"l":6,"lo":-1.263,"hi":-0.609},{"l":7,"lo":-0.609,"hi":0.045},{"l":8,"lo":0.045,"hi":0.698},{"l":9,"lo":0.698,"hi":1.352},{"l":10,"lo":1.352,"hi":2.005},{"l":11,"lo":2.005,"hi":2.659},{"l":12,"lo":2.659,"hi":3.312},{"l":13,"lo":3.312,"hi":3.966},{"l":14,"lo":3.966,"hi":4.619},{"l":15,"lo":4.619,"hi":5.273},{"l":16,"lo":5.273,"hi":5.926},{"l":17,"lo":5.926,"hi":6.58},{"l":18,"lo":6.58,"hi":7.233},{"l":19,"lo":7.233,"hi":7.887},{"l":20,"lo":7.887,"hi":8.54}]
},
"concat":[
{"width":477,"height":273,"view":{"stroke":"#000","strokeWidth":2},"title":"Surface charge density at t = 0 ns","data":{"name":"t0"},"mark":{"type":"rect","binSpacing":0},"encoding":{
"x":{"field":"x","type":"quantitative","bin":{"extent":[-0.01,0.01],"step":0.00133333333,"nice":false},"scale":{"domain":[-0.01,0.01],"nice":false},"axis":{"zindex":1,"values":[-0.01,-0.0096,-0.0092,-0.0088,-0.0084,-0.008,-0.0076,-0.0072,-0.0068,-0.0064,-0.006,-0.0056,-0.0052,-0.0048,-0.0044,-0.004,-0.0036,-0.0032,-0.0028,-0.0024,-0.002,-0.0016,-0.0012,-0.0008,-0.0004,0,0.0004,0.0008,0.0012,0.0016,0.002,0.0024,0.0028,0.0032,0.0036,0.004,0.0044,0.0048,0.0052,0.0056,0.006,0.0064,0.0068,0.0072,0.0076,0.008,0.0084,0.0088,0.0092,0.0096,0.01],"tickSize":{"condition":{"test":"abs(round(datum.value*10000)%20)==0","value":-10},"value":-5},"labelExpr":"abs(round(datum.value*10000)%20)==0 ? ''+round(datum.value*1000)/1000 : ''","labelPadding":11}},
"y":{"field":"y","type":"quantitative","bin":{"extent":[-0.01,0.01],"step":0.00133333333,"nice":false},"scale":{"domain":[-0.01,0.01],"nice":false},"axis":{"zindex":1,"values":[-0.01,-0.0096,-0.0092,-0.0088,-0.0084,-0.008,-0.0076,-0.0072,-0.0068,-0.0064,-0.006,-0.0056,-0.0052,-0.0048,-0.0044,-0.004,-0.0036,-0.0032,-0.0028,-0.0024,-0.002,-0.0016,-0.0012,-0.0008,-0.0004,0,0.0004,0.0008,0.0012,0.0016,0.002,0.0024,0.0028,0.0032,0.0036,0.004,0.0044,0.0048,0.0052,0.0056,0.006,0.0064,0.0068,0.0072,0.0076,0.008,0.0084,0.0088,0.0092,0.0096,0.01],"tickSize":{"condition":{"test":"abs(round(datum.value*10000)%20)==0","value":-14},"value":-7},"labelExpr":"abs(round(datum.value*10000)%20)==0 ? ''+round(datum.value*1000)/1000 : ''","labelPadding":17}},
"color":{"field":"v","type":"quantitative","scale":{"type":"quantize","domain":[0,0.1317],"nice":false,"range":["#6e00ff","#3300ff","#0008ff","#0048ff","#0088ff","#00bbff","#00ffff","#00ffc8","#00ff80","#00ff50","#00ff00","#22ff00","#6aff00","#99ff00","#ddff00","#ffee00","#ffaa00","#ff7000","#ff3300","#ff0000"]},"legend":null}}},
{"width":137,"height":273,"view":{"stroke":null},"layer":[
{"data":{"name":"b0"},"mark":"rect","encoding":{"x":{"datum":0,"type":"quantitative","scale":{"domain":[0,5.269],"nice":false},"axis":null},"x2":{"datum":1},"y":{"field":"lo","type":"quantitative","scale":{"domain":[0,0.1317],"nice":false},"axis":{"zindex":1,"orient":"right","offset":-111,"values":[0,0.02,0.04,0.06,0.08,0.1,0.12],"tickSize":-14,"labelPadding":16,"labelExpr":"''+datum.value"}},"y2":{"field":"hi"},"color":{"field":"l","type":"ordinal","scale":{"range":["#6e00ff","#3300ff","#0008ff","#0048ff","#0088ff","#00bbff","#00ffff","#00ffc8","#00ff80","#00ff50","#00ff00","#22ff00","#6aff00","#99ff00","#ddff00","#ffee00","#ffaa00","#ff7000","#ff3300","#ff0000"]},"legend":null}}},
{"data":{"values":[{"label":"×10"}]},"mark":{"type":"text","align":"left","baseline":"middle","fontSize":11,"dy":-4,"dx":0},"encoding":{"x":{"datum":1,"type":"quantitative"},"y":{"datum":0.1317,"type":"quantitative"},"text":{"field":"label"}}},
{"data":{"values":[{"label":"-9"}]},"mark":{"type":"text","align":"left","baseline":"middle","fontSize":7,"dy":-11,"dx":18},"encoding":{"x":{"datum":1,"type":"quantitative"},"y":{"datum":0.1317,"type":"quantitative"},"text":{"field":"label"}}}
]},
{"width":477,"height":273,"view":{"stroke":"#000","strokeWidth":2},"title":"Surface charge density at t = 1 ns","data":{"name":"t1"},"mark":{"type":"rect","binSpacing":0},"encoding":{
"x":{"field":"x","type":"quantitative","bin":{"extent":[-0.01,0.01],"step":0.00133333333,"nice":false},"scale":{"domain":[-0.01,0.01],"nice":false},"axis":{"zindex":1,"values":[-0.01,-0.0096,-0.0092,-0.0088,-0.0084,-0.008,-0.0076,-0.0072,-0.0068,-0.0064,-0.006,-0.0056,-0.0052,-0.0048,-0.0044,-0.004,-0.0036,-0.0032,-0.0028,-0.0024,-0.002,-0.0016,-0.0012,-0.0008,-0.0004,0,0.0004,0.0008,0.0012,0.0016,0.002,0.0024,0.0028,0.0032,0.0036,0.004,0.0044,0.0048,0.0052,0.0056,0.006,0.0064,0.0068,0.0072,0.0076,0.008,0.0084,0.0088,0.0092,0.0096,0.01],"tickSize":{"condition":{"test":"abs(round(datum.value*10000)%20)==0","value":-10},"value":-5},"labelExpr":"abs(round(datum.value*10000)%20)==0 ? ''+round(datum.value*1000)/1000 : ''","labelPadding":11}},
"y":{"field":"y","type":"quantitative","bin":{"extent":[-0.01,0.01],"step":0.00133333333,"nice":false},"scale":{"domain":[-0.01,0.01],"nice":false},"axis":{"zindex":1,"values":[-0.01,-0.0096,-0.0092,-0.0088,-0.0084,-0.008,-0.0076,-0.0072,-0.0068,-0.0064,-0.006,-0.0056,-0.0052,-0.0048,-0.0044,-0.004,-0.0036,-0.0032,-0.0028,-0.0024,-0.002,-0.0016,-0.0012,-0.0008,-0.0004,0,0.0004,0.0008,0.0012,0.0016,0.002,0.0024,0.0028,0.0032,0.0036,0.004,0.0044,0.0048,0.0052,0.0056,0.006,0.0064,0.0068,0.0072,0.0076,0.008,0.0084,0.0088,0.0092,0.0096,0.01],"tickSize":{"condition":{"test":"abs(round(datum.value*10000)%20)==0","value":-14},"value":-7},"labelExpr":"abs(round(datum.value*10000)%20)==0 ? ''+round(datum.value*1000)/1000 : ''","labelPadding":17}},
"color":{"field":"v","type":"quantitative","scale":{"type":"quantize","domain":[-8.9,92.3],"nice":false,"range":["#6e00ff","#3300ff","#0008ff","#0048ff","#0088ff","#00bbff","#00ffff","#00ffc8","#00ff80","#00ff50","#00ff00","#22ff00","#6aff00","#99ff00","#ddff00","#ffee00","#ffaa00","#ff7000","#ff3300","#ff0000"]},"legend":null}}},
{"width":137,"height":273,"view":{"stroke":null},"layer":[
{"data":{"name":"b1"},"mark":"rect","encoding":{"x":{"datum":0,"type":"quantitative","scale":{"domain":[0,5.269],"nice":false},"axis":null},"x2":{"datum":1},"y":{"field":"lo","type":"quantitative","scale":{"domain":[-8.9,92.3],"nice":false},"axis":{"zindex":1,"orient":"right","offset":-111,"values":[0,20,40,60,80],"tickSize":-14,"labelPadding":16,"labelExpr":"''+datum.value"}},"y2":{"field":"hi"},"color":{"field":"l","type":"ordinal","scale":{"range":["#6e00ff","#3300ff","#0008ff","#0048ff","#0088ff","#00bbff","#00ffff","#00ffc8","#00ff80","#00ff50","#00ff00","#22ff00","#6aff00","#99ff00","#ddff00","#ffee00","#ffaa00","#ff7000","#ff3300","#ff0000"]},"legend":null}}},
{"data":{"values":[{"label":"×10"}]},"mark":{"type":"text","align":"left","baseline":"middle","fontSize":11,"dy":-4,"dx":0},"encoding":{"x":{"datum":1,"type":"quantitative"},"y":{"datum":92.3,"type":"quantitative"},"text":{"field":"label"}}},
{"data":{"values":[{"label":"-12"}]},"mark":{"type":"text","align":"left","baseline":"middle","fontSize":7,"dy":-11,"dx":18},"encoding":{"x":{"datum":1,"type":"quantitative"},"y":{"datum":92.3,"type":"quantitative"},"text":{"field":"label"}}}
]},
{"width":477,"height":273,"view":{"stroke":"#000","strokeWidth":2},"title":"Surface charge density at t = 10 ns","data":{"name":"t10"},"mark":{"type":"rect","binSpacing":0},"encoding":{
"x":{"field":"x","type":"quantitative","bin":{"extent":[-0.01,0.01],"step":0.00133333333,"nice":false},"scale":{"domain":[-0.01,0.01],"nice":false},"axis":{"zindex":1,"values":[-0.01,-0.0096,-0.0092,-0.0088,-0.0084,-0.008,-0.0076,-0.0072,-0.0068,-0.0064,-0.006,-0.0056,-0.0052,-0.0048,-0.0044,-0.004,-0.0036,-0.0032,-0.0028,-0.0024,-0.002,-0.0016,-0.0012,-0.0008,-0.0004,0,0.0004,0.0008,0.0012,0.0016,0.002,0.0024,0.0028,0.0032,0.0036,0.004,0.0044,0.0048,0.0052,0.0056,0.006,0.0064,0.0068,0.0072,0.0076,0.008,0.0084,0.0088,0.0092,0.0096,0.01],"tickSize":{"condition":{"test":"abs(round(datum.value*10000)%20)==0","value":-10},"value":-5},"labelExpr":"abs(round(datum.value*10000)%20)==0 ? ''+round(datum.value*1000)/1000 : ''","labelPadding":11}},
"y":{"field":"y","type":"quantitative","bin":{"extent":[-0.01,0.01],"step":0.00133333333,"nice":false},"scale":{"domain":[-0.01,0.01],"nice":false},"axis":{"zindex":1,"values":[-0.01,-0.0096,-0.0092,-0.0088,-0.0084,-0.008,-0.0076,-0.0072,-0.0068,-0.0064,-0.006,-0.0056,-0.0052,-0.0048,-0.0044,-0.004,-0.0036,-0.0032,-0.0028,-0.0024,-0.002,-0.0016,-0.0012,-0.0008,-0.0004,0,0.0004,0.0008,0.0012,0.0016,0.002,0.0024,0.0028,0.0032,0.0036,0.004,0.0044,0.0048,0.0052,0.0056,0.006,0.0064,0.0068,0.0072,0.0076,0.008,0.0084,0.0088,0.0092,0.0096,0.01],"tickSize":{"condition":{"test":"abs(round(datum.value*10000)%20)==0","value":-14},"value":-7},"labelExpr":"abs(round(datum.value*10000)%20)==0 ? ''+round(datum.value*1000)/1000 : ''","labelPadding":17}},
"color":{"field":"v","type":"quantitative","scale":{"type":"quantize","domain":[-6.87,7.95],"nice":false,"range":["#6e00ff","#3300ff","#0008ff","#0048ff","#0088ff","#00bbff","#00ffff","#00ffc8","#00ff80","#00ff50","#00ff00","#22ff00","#6aff00","#99ff00","#ddff00","#ffee00","#ffaa00","#ff7000","#ff3300","#ff0000"]},"legend":null}}},
{"width":137,"height":273,"view":{"stroke":null},"layer":[
{"data":{"name":"b10"},"mark":"rect","encoding":{"x":{"datum":0,"type":"quantitative","scale":{"domain":[0,5.269],"nice":false},"axis":null},"x2":{"datum":1},"y":{"field":"lo","type":"quantitative","scale":{"domain":[-6.87,7.95],"nice":false},"axis":{"zindex":1,"orient":"right","offset":-111,"values":[-6,-4,-2,0,2,4,6],"tickSize":-14,"labelPadding":16,"labelExpr":"''+datum.value"}},"y2":{"field":"hi"},"color":{"field":"l","type":"ordinal","scale":{"range":["#6e00ff","#3300ff","#0008ff","#0048ff","#0088ff","#00bbff","#00ffff","#00ffc8","#00ff80","#00ff50","#00ff00","#22ff00","#6aff00","#99ff00","#ddff00","#ffee00","#ffaa00","#ff7000","#ff3300","#ff0000"]},"legend":null}}},
{"data":{"values":[{"label":"×10"}]},"mark":{"type":"text","align":"left","baseline":"middle","fontSize":11,"dy":-4,"dx":0},"encoding":{"x":{"datum":1,"type":"quantitative"},"y":{"datum":7.95,"type":"quantitative"},"text":{"field":"label"}}},
{"data":{"values":[{"label":"-12"}]},"mark":{"type":"text","align":"left","baseline":"middle","fontSize":7,"dy":-11,"dx":18},"encoding":{"x":{"datum":1,"type":"quantitative"},"y":{"datum":7.95,"type":"quantitative"},"text":{"field":"label"}}}
]},
{"width":477,"height":273,"view":{"stroke":"#000","strokeWidth":2},"title":"Surface charge density at t = 20 ns","data":{"name":"t20"},"mark":{"type":"rect","binSpacing":0},"encoding":{
"x":{"field":"x","type":"quantitative","bin":{"extent":[-0.01,0.01],"step":0.00133333333,"nice":false},"scale":{"domain":[-0.01,0.01],"nice":false},"axis":{"zindex":1,"values":[-0.01,-0.0096,-0.0092,-0.0088,-0.0084,-0.008,-0.0076,-0.0072,-0.0068,-0.0064,-0.006,-0.0056,-0.0052,-0.0048,-0.0044,-0.004,-0.0036,-0.0032,-0.0028,-0.0024,-0.002,-0.0016,-0.0012,-0.0008,-0.0004,0,0.0004,0.0008,0.0012,0.0016,0.002,0.0024,0.0028,0.0032,0.0036,0.004,0.0044,0.0048,0.0052,0.0056,0.006,0.0064,0.0068,0.0072,0.0076,0.008,0.0084,0.0088,0.0092,0.0096,0.01],"tickSize":{"condition":{"test":"abs(round(datum.value*10000)%20)==0","value":-10},"value":-5},"labelExpr":"abs(round(datum.value*10000)%20)==0 ? ''+round(datum.value*1000)/1000 : ''","labelPadding":11}},
"y":{"field":"y","type":"quantitative","bin":{"extent":[-0.01,0.01],"step":0.00133333333,"nice":false},"scale":{"domain":[-0.01,0.01],"nice":false},"axis":{"zindex":1,"values":[-0.01,-0.0096,-0.0092,-0.0088,-0.0084,-0.008,-0.0076,-0.0072,-0.0068,-0.0064,-0.006,-0.0056,-0.0052,-0.0048,-0.0044,-0.004,-0.0036,-0.0032,-0.0028,-0.0024,-0.002,-0.0016,-0.0012,-0.0008,-0.0004,0,0.0004,0.0008,0.0012,0.0016,0.002,0.0024,0.0028,0.0032,0.0036,0.004,0.0044,0.0048,0.0052,0.0056,0.006,0.0064,0.0068,0.0072,0.0076,0.008,0.0084,0.0088,0.0092,0.0096,0.01],"tickSize":{"condition":{"test":"abs(round(datum.value*10000)%20)==0","value":-14},"value":-7},"labelExpr":"abs(round(datum.value*10000)%20)==0 ? ''+round(datum.value*1000)/1000 : ''","labelPadding":17}},
"color":{"field":"v","type":"quantitative","scale":{"type":"quantize","domain":[-4.53,8.54],"nice":false,"range":["#6e00ff","#3300ff","#0008ff","#0048ff","#0088ff","#00bbff","#00ffff","#00ffc8","#00ff80","#00ff50","#00ff00","#22ff00","#6aff00","#99ff00","#ddff00","#ffee00","#ffaa00","#ff7000","#ff3300","#ff0000"]},"legend":null}}},
{"width":137,"height":273,"view":{"stroke":null},"layer":[
{"data":{"name":"b20"},"mark":"rect","encoding":{"x":{"datum":0,"type":"quantitative","scale":{"domain":[0,5.269],"nice":false},"axis":null},"x2":{"datum":1},"y":{"field":"lo","type":"quantitative","scale":{"domain":[-4.53,8.54],"nice":false},"axis":{"zindex":1,"orient":"right","offset":-111,"values":[-4,-2,0,2,4,6,8],"tickSize":-14,"labelPadding":16,"labelExpr":"''+datum.value"}},"y2":{"field":"hi"},"color":{"field":"l","type":"ordinal","scale":{"range":["#6e00ff","#3300ff","#0008ff","#0048ff","#0088ff","#00bbff","#00ffff","#00ffc8","#00ff80","#00ff50","#00ff00","#22ff00","#6aff00","#99ff00","#ddff00","#ffee00","#ffaa00","#ff7000","#ff3300","#ff0000"]},"legend":null}}},
{"data":{"values":[{"label":"×10"}]},"mark":{"type":"text","align":"left","baseline":"middle","fontSize":11,"dy":-4,"dx":0},"encoding":{"x":{"datum":1,"type":"quantitative"},"y":{"datum":8.54,"type":"quantitative"},"text":{"field":"label"}}},
{"data":{"values":[{"label":"-12"}]},"mark":{"type":"text","align":"left","baseline":"middle","fontSize":7,"dy":-11,"dx":18},"encoding":{"x":{"datum":1,"type":"quantitative"},"y":{"datum":8.54,"type":"quantitative"},"text":{"field":"label"}}}
]}
]}
